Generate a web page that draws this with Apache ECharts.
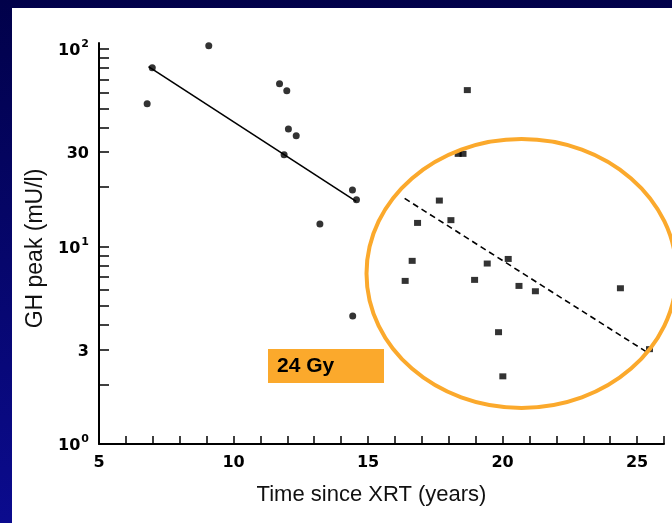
<!DOCTYPE html>
<html>
<head>
<meta charset="utf-8">
<script src="https://cdn.jsdelivr.net/npm/echarts@6/dist/echarts.min.js"></script>
<style>
  html, body { margin: 0; padding: 0; }
  #wrap {
    width: 672px; height: 523px; position: relative;
    background: linear-gradient(to bottom, #01014a, #0b0b8e);
  }
  #chart { position: absolute; left: 0; top: 0; width: 672px; height: 523px; }
</style>
</head>
<body>
<div id="wrap"><div id="chart"></div></div>
<script>
// Peak GH response against time since cranial irradiation (XRT)
// Higher-dose group (circles) with its regression line
const doseHighYears = [6.79, 6.98, 9.08, 11.71, 11.98, 12.04, 12.33, 11.88, 13.21, 14.42, 14.57, 14.43];
const doseHighGH    = [52.7, 80.1, 103.6, 66.5, 61.3, 39.3, 36.3, 29.1, 13.0, 19.3, 17.2, 4.45];
const fitHighYears  = [6.84, 14.56];
const fitHighGH     = [81.3, 16.9];

// 24 Gy group (squares) with its regression line
const dose24Years = [18.69, 18.35, 18.53, 17.65, 16.84, 18.08, 16.64, 16.38, 19.43, 20.21, 18.96, 20.61, 21.22, 24.38, 19.85, 20.01, 25.46];
const dose24GH    = [61.8, 29.4, 29.4, 17.06, 13.15, 13.58, 8.45, 6.69, 8.19, 8.64, 6.77, 6.31, 5.93, 6.14, 3.68, 2.20, 3.02];
const fit24Years  = [16.36, 25.34];
const fit24GH     = [17.5, 2.93];

// Axis ticks and labels
const xTickValues  = [5, 6, 7, 8, 9, 10, 11, 12, 13, 14, 15, 16, 17, 18, 19, 20, 21, 22, 23, 24, 25, 26];
const xLabelValues = [5, 10, 15, 20, 25];
const yTickValues  = [1, 2, 3, 4, 5, 6, 7, 8, 9, 10, 20, 30, 40, 50, 60, 70, 80, 90, 100];
const yLabelValues = [1, 3, 10, 30, 100];
const yPowerLabels = { 1: '0', 10: '1', 100: '2' };

const pairs = (xs, ys) => xs.map((x, i) => [x, ys[i]]);

const chart = echarts.init(document.getElementById('chart'), null, { renderer: 'canvas' });

const tickFont = { fontFamily: 'DejaVu Sans', fontWeight: 'bold', fontSize: 16, color: '#000' };
const orange = '#fba92c';

chart.setOption({
  animation: false,
  backgroundColor: 'transparent',
  grid: { left: 99, right: 8, top: 43, bottom: 79 },
  xAxis: {
    type: 'value', min: 5, max: 26,
    name: 'Time since XRT (years)',
    nameLocation: 'middle', nameGap: 40,
    nameTextStyle: { fontFamily: 'Liberation Sans', fontSize: 22, color: '#111', padding: [0, 20, 0, 0] },
    axisLine: { show: true, lineStyle: { color: '#000', width: 2 } },
    axisTick: { show: true, inside: true, length: 8, customValues: xTickValues, lineStyle: { color: '#000', width: 1.5 } },
    axisLabel: { customValues: xLabelValues, margin: 11, ...tickFont },
    splitLine: { show: false }
  },
  yAxis: {
    type: 'log', logBase: 10, min: 1, max: 107,
    name: 'GH peak (mU/l)',
    nameLocation: 'middle', nameGap: 52, nameRotate: 90,
    nameTextStyle: { fontFamily: 'Liberation Sans', fontSize: 23, color: '#111', padding: [0, 10, 0, 0] },
    axisLine: { show: true, lineStyle: { color: '#000', width: 2 } },
    axisTick: { show: true, inside: true, length: 10, customValues: yTickValues, lineStyle: { color: '#000', width: 1.5 } },
    axisLabel: {
      customValues: yLabelValues, margin: 10,
      formatter: v => {
        const r = Math.round(v);
        return yPowerLabels[r] !== undefined ? '{b|10}{s|' + yPowerLabels[r] + '}' : '{b|' + r + '}';
      },
      rich: {
        b: { ...tickFont, lineHeight: 20, verticalAlign: 'bottom' },
        s: { fontFamily: 'DejaVu Sans', fontWeight: 'bold', fontSize: 11, color: '#000', lineHeight: 11, verticalAlign: 'top', padding: [0, 0, 0, 1] }
      }
    },
    splitLine: { show: false }
  },
  series: [
    {
      type: 'scatter', data: pairs(doseHighYears, doseHighGH),
      symbol: 'circle', symbolSize: 7, itemStyle: { color: '#000' }, z: 3
    },
    {
      type: 'scatter', data: pairs(dose24Years, dose24GH),
      symbol: 'rect', symbolSize: [7, 6], itemStyle: { color: '#000' }, z: 3
    },
    {
      type: 'line', data: pairs(fitHighYears, fitHighGH),
      symbol: 'none', lineStyle: { color: '#000', width: 1.6 }, z: 2
    },
    {
      type: 'line', data: pairs(fit24Years, fit24GH),
      symbol: 'none', lineStyle: { color: '#000', width: 1.6, type: [6, 4] }, z: 2
    }
  ],
  graphic: [
    { type: 'rect', z: -100, silent: true, shape: { x: 12, y: 8, width: 660, height: 515 }, style: { fill: '#fff' } },
    { type: 'ellipse', z: 100, silent: true, shape: { cx: 521.5, cy: 273.5, rx: 155, ry: 134.5 }, style: { fill: 'none', stroke: orange, lineWidth: 4 } },
    { type: 'rect', z: 100, silent: true, shape: { x: 268, y: 349, width: 116, height: 34 }, style: { fill: orange } },
    { type: 'text', z: 101, silent: true, x: 277, y: 366, style: { text: '24 Gy', fill: '#000', font: 'bold 21px "Liberation Sans"', verticalAlign: 'middle' } }
  ]
});
</script>
</body>
</html>
